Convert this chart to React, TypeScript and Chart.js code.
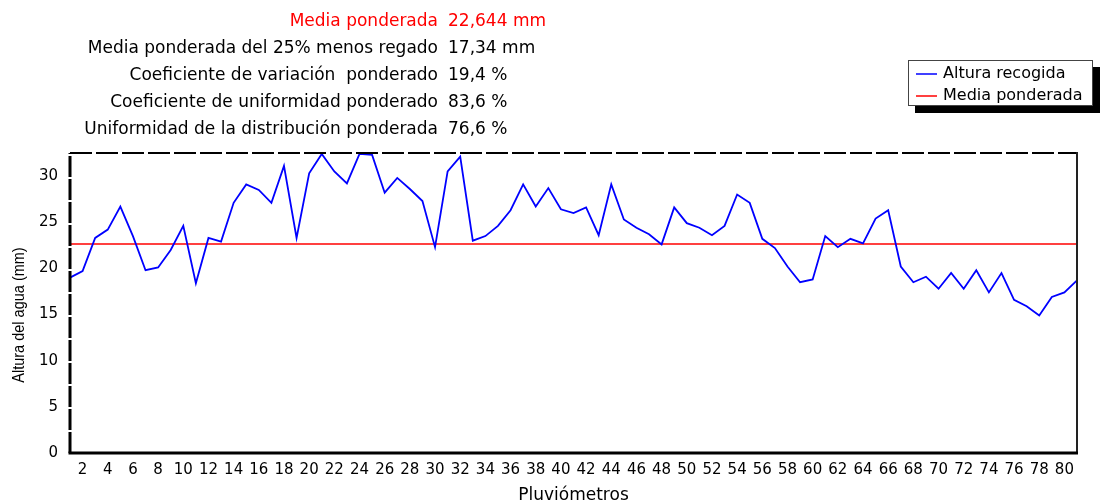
import React, { useEffect, useRef } from "react";
import { Chart, registerables } from "chart.js";

Chart.register(...registerables);

const pluviometros = [
  "1", "2", "3", "4", "5", "6", "7", "8", "9", "10",
  "11", "12", "13", "14", "15", "16", "17", "18", "19", "20",
  "21", "22", "23", "24", "25", "26", "27", "28", "29", "30",
  "31", "32", "33", "34", "35", "36", "37", "38", "39", "40",
  "41", "42", "43", "44", "45", "46", "47", "48", "49", "50",
  "51", "52", "53", "54", "55", "56", "57", "58", "59", "60",
  "61", "62", "63", "64", "65", "66", "67", "68", "69", "70",
  "71", "72", "73", "74", "75", "76", "77", "78", "79", "80",
  "81",
];

const alturaRecogida = [
  19.0, 19.7, 23.3, 24.2, 26.7, 23.5, 19.8, 20.1, 22.0, 24.6,
  18.4, 23.3, 22.9, 27.1, 29.1, 28.5, 27.1, 31.1, 23.3, 30.3,
  32.4, 30.5, 29.2, 32.4, 32.3, 28.2, 29.8, 28.6, 27.3, 22.3,
  30.5, 32.1, 23.0, 23.5, 24.6, 26.3, 29.1, 26.7, 28.7, 26.4,
  26.0, 26.6, 23.6, 29.1, 25.3, 24.4, 23.7, 22.6, 26.6, 24.9,
  24.4, 23.6, 24.6, 28.0, 27.1, 23.2, 22.2, 20.2, 18.5, 18.8,
  23.5, 22.3, 23.2, 22.7, 25.4, 26.3, 20.2, 18.5, 19.1, 17.8,
  19.5, 17.8, 19.8, 17.4, 19.5, 16.6, 15.9, 14.9, 16.9, 17.4,
  18.7,
];

const MEDIA_PONDERADA = 22.644;

const Y_MIN = 0;
const Y_MAX = 32.5;
const Y_STEP = 5;

const statLabels = [
  "Media ponderada",
  "Media ponderada del 25% menos regado",
  "Coeficiente de variación  ponderado",
  "Coeficiente de uniformidad ponderado",
  "Uniformidad de la distribución ponderada",
];
const statValues = ["22,644 mm", "17,34 mm", "19,4 %", "83,6 %", "76,6 %"];
const statColors = ["#ff0000", "#000000", "#000000", "#000000", "#000000"];

const seriesNames = ["Altura recogida", "Media ponderada"];
const seriesColors = ["#0000ff", "#ff0000"];

const yTitle = "Altura del agua (mm)";
const xTitle = "Pluviómetros";

const FONT = "'DejaVu Sans', sans-serif";

const decorPlugin = {
  id: "decor",
  afterDatasetsDraw(chart: any) {
    const { ctx, chartArea } = chart;
    const { left, right, top, bottom } = chartArea;
    ctx.save();
    ctx.strokeStyle = "#000";
    ctx.lineWidth = 2;
    ctx.setLineDash([22, 4]);
    ctx.beginPath();
    ctx.moveTo(left, top);
    ctx.lineTo(right, top);
    ctx.stroke();
    ctx.lineWidth = 3;
    ctx.setLineDash([21, 2]);
    ctx.beginPath();
    ctx.moveTo(left, bottom);
    ctx.lineTo(left, top);
    ctx.stroke();
    ctx.setLineDash([]);
    ctx.lineWidth = 2;
    ctx.strokeStyle = "#222";
    ctx.beginPath();
    ctx.moveTo(right, top - 1);
    ctx.lineTo(right, bottom);
    ctx.stroke();
    ctx.strokeStyle = "#000";
    ctx.lineWidth = 3;
    ctx.beginPath();
    ctx.moveTo(left - 1.5, bottom);
    ctx.lineTo(right + 1, bottom);
    ctx.stroke();
    ctx.restore();
  },
  afterDraw(chart: any) {
    const { ctx } = chart;
    ctx.save();
    ctx.font = `17px ${FONT}`;
    ctx.textBaseline = "middle";
    statLabels.forEach((label, i) => {
      const y = 22 + i * 27;
      ctx.fillStyle = statColors[i];
      ctx.textAlign = "right";
      ctx.fillText(label, 438, y);
      ctx.textAlign = "left";
      ctx.fillText(statValues[i], 448, y);
    });

    const bx = 908, by = 60, bw = 185, bh = 46;
    ctx.fillStyle = "#000";
    ctx.fillRect(bx + 7, by + 7, bw, bh);
    ctx.fillStyle = "#fff";
    ctx.fillRect(bx, by, bw, bh);
    ctx.strokeStyle = "#444";
    ctx.lineWidth = 1;
    ctx.strokeRect(bx + 0.5, by + 0.5, bw - 1, bh - 1);
    ctx.font = `16px ${FONT}`;
    ctx.textAlign = "left";
    ctx.textBaseline = "middle";
    seriesNames.forEach((name, i) => {
      const y = 74 + i * 22;
      ctx.strokeStyle = seriesColors[i];
      ctx.lineWidth = 1.5;
      ctx.beginPath();
      ctx.moveTo(916, y);
      ctx.lineTo(937, y);
      ctx.stroke();
      ctx.fillStyle = "#000";
      ctx.fillText(name, 943, y);
    });

    ctx.translate(19, 315);
    ctx.rotate(-Math.PI / 2);
    ctx.scale(1, 1.2);
    ctx.font = `14.5px 'Liberation Sans', Arial, sans-serif`;
    ctx.fillStyle = "#000";
    ctx.textAlign = "center";
    ctx.textBaseline = "middle";
    ctx.fillText(yTitle, 0, 0);
    ctx.restore();
  },
};

export default function App() {
  const canvasRef = useRef<HTMLCanvasElement | null>(null);

  useEffect(() => {
    const canvas = canvasRef.current;
    if (!canvas) return;
    const chart = new Chart(canvas, {
      type: "line",
      data: {
        labels: pluviometros,
        datasets: [
          {
            label: seriesNames[0],
            data: alturaRecogida,
            borderColor: seriesColors[0],
            borderWidth: 1.8,
            pointRadius: 0,
            tension: 0,
            fill: false,
          },
          {
            label: seriesNames[1],
            data: pluviometros.map(() => MEDIA_PONDERADA),
            borderColor: seriesColors[1],
            borderWidth: 1.5,
            pointRadius: 0,
            tension: 0,
            fill: false,
          },
        ],
      },
      options: {
        animation: false,
        responsive: false,
        maintainAspectRatio: false,
        layout: { padding: { left: 0, top: 153, right: 23, bottom: 0 } },
        plugins: {
          legend: { display: false },
          title: { display: false },
          tooltip: { enabled: false },
        },
        scales: {
          x: {
            type: "category",
            offset: false,
            grid: { display: false, drawTicks: false },
            border: { display: false },
            ticks: {
              autoSkip: false,
              maxRotation: 0,
              minRotation: 0,
              padding: 8,
              color: "#000",
              font: { family: FONT, size: 15 },
              callback: (_v: any, index: number) =>
                index % 2 === 1 ? pluviometros[index] : "",
            },
            title: {
              display: true,
              text: xTitle,
              color: "#000",
              font: { family: FONT, size: 17, lineHeight: 1 },
              padding: { top: 0, bottom: 0 },
            },
            afterFit: (scale: any) => {
              scale.height = 51;
            },
          },
          y: {
            min: Y_MIN,
            max: Y_MAX,
            grid: { display: false, drawTicks: false },
            border: { display: false },
            ticks: {
              stepSize: Y_STEP,
              includeBounds: false,
              padding: 12,
              color: "#000",
              font: { family: FONT, size: 15 },
            },
            afterFit: (scale: any) => {
              scale.width = 70;
            },
          },
        },
      },
      plugins: [decorPlugin],
    });
    return () => chart.destroy();
  }, []);

  return (
    <div style={{ position: "fixed", left: 0, top: 0, width: 1100, height: 504, background: "#fff" }}>
      <canvas ref={canvasRef} width={1100} height={504} />
    </div>
  );
}
